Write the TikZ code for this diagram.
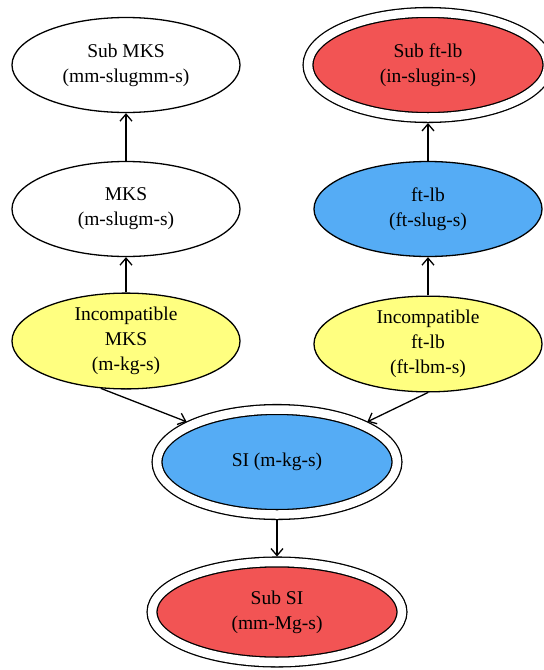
\documentclass[tikz,border=0pt]{standalone}
\usepackage{fontspec}
\setmainfont{Liberation Serif}
\usetikzlibrary{shapes.geometric,arrows.meta}
\definecolor{siblue}{RGB}{85,172,245}
\definecolor{subred}{RGB}{242,84,84}
\definecolor{oldyellow}{RGB}{255,255,128}

\begin{document}
\begin{tikzpicture}[x=1pt,y=-1pt,
  sysnode/.style={ellipse, draw, line width=1.3pt, inner sep=0pt, align=center,
    font=\fontsize{19.5}{25}\selectfont, minimum width=228pt, minimum height=95pt},
  ring/.style={sysnode, double, double distance=8.5pt, outer sep=5.5pt,
    minimum width=240pt, minimum height=105pt},
  link/.style={-{Straight Barb[length=7pt,width=12pt]}, line width=1.3pt}]
\useasboundingbox (0,0) rectangle (544,670);
\node[sysnode] (submks) at (126,65) {Sub MKS\\(mm-slugmm-s)};
\node[ring, fill=subred] (subftlb) at (428,65) {Sub ft-lb\\(in-slugin-s)};
\node[sysnode] (mks) at (126,209) {MKS\\(m-slugm-s)};
\node[sysnode, fill=siblue] (ftlb) at (428,209) {ft-lb\\(ft-slug-s)};
\node[sysnode, fill=oldyellow] (incmks) at (126,341) {Incompatible\\MKS\\(m-kg-s)};
\node[sysnode, fill=oldyellow] (incftlb) at (428,344) {Incompatible\\ft-lb\\(ft-lbm-s)};
\node[ring, fill=siblue] (si) at (277,462) {SI (m-kg-s)};
\node[ring, fill=subred, minimum width=250pt, minimum height=100pt] (subsi) at (277,612) {Sub SI\\(mm-Mg-s)};
\draw[link] (mks) -- (submks);
\draw[link] (ftlb) -- (subftlb);
\draw[link] (incmks) -- (mks);
\draw[link] (incftlb) -- (ftlb);
\draw[link] (incmks.-118) -- (si.156);
\draw[link] (incftlb.south) -- (si.24);
\draw[link] (si) -- (subsi);
\end{tikzpicture}
\end{document}
